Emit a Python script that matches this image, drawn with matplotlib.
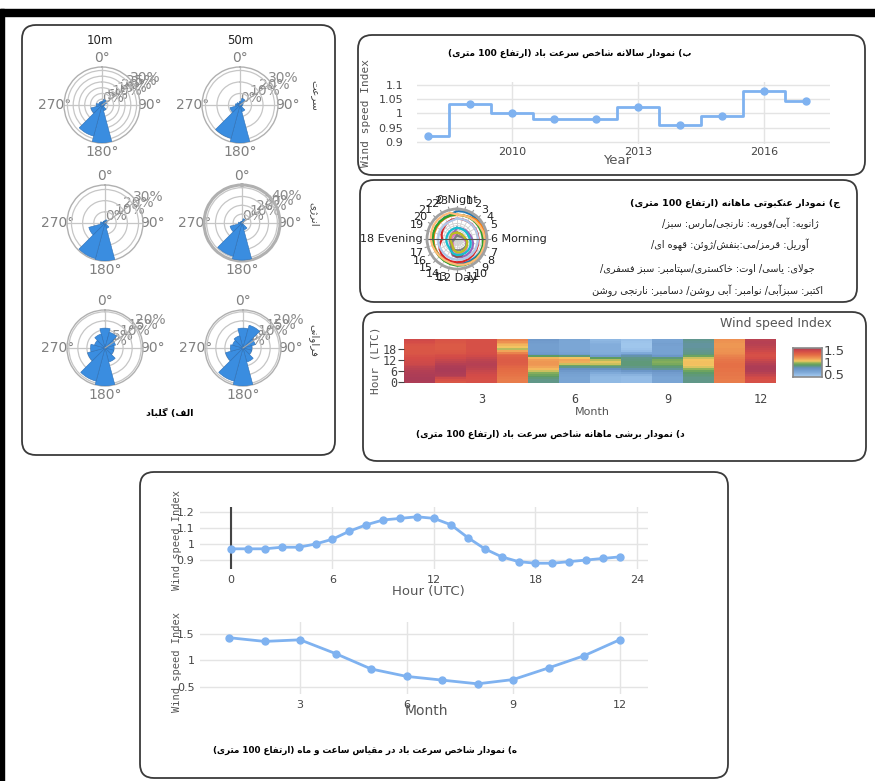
import re
import numpy as np
import matplotlib
matplotlib.use("Agg")
import matplotlib.pyplot as plt
from matplotlib.patches import FancyBboxPatch, Rectangle
from matplotlib.colors import LinearSegmentedColormap

W, H = 875, 781

# ---------------- data ----------------
sector_deg = [0, 30, 60, 90, 120, 150, 180, 210, 240, 270, 300, 330]
rose_heights = ["10m", "50m"]
rose_rows = ["سرعت", "انرژی", "فراوانی"]
rose_speed_10 = [3, 5, 4, 2, 2, 5, 33, 28, 10, 5, 3, 3]
rose_speed_50 = [3, 6, 3, 2, 2, 6, 33, 30, 9, 4, 3, 2]
rose_energy_10 = [2, 3, 2, 1, 1, 5, 34, 33, 15, 4, 2, 2]
rose_energy_50 = [2, 5, 2, 1, 1, 8, 42, 39, 14, 4, 2, 2]
rose_freq_10 = [11, 9, 6, 5, 5, 8, 21, 19, 10, 8, 6, 8]
rose_freq_50 = [11, 13, 7, 5, 5, 8, 21, 19, 10, 7, 6, 7]

years = [2008, 2009, 2010, 2011, 2012, 2013, 2014, 2015, 2016, 2017]
yearly_index = [0.92, 1.033, 1.0, 0.98, 0.98, 1.022, 0.958, 0.99, 1.08, 1.042]

hours = list(range(24))
hour_labels = ["0 Night", "1", "2", "3", "4", "5", "6 Morning", "7", "8", "9", "10", "11",
               "12 Day", "13", "14", "15", "16", "17", "18 Evening", "19", "20", "21", "22", "23"]
hourly_index = [0.97, 0.97, 0.97, 0.98, 0.98, 1.00, 1.03, 1.08, 1.12, 1.15, 1.16, 1.17,
                1.16, 1.12, 1.04, 0.97, 0.92, 0.89, 0.88, 0.88, 0.89, 0.90, 0.91, 0.92]

months = list(range(1, 13))
monthly_index = [1.43, 1.36, 1.39, 1.13, 0.84, 0.70, 0.63, 0.56, 0.64, 0.86, 1.09, 1.39]

# month x hour wind speed index (hours 0..23)
heat_jan = [1.56, 1.57, 1.57, 1.56, 1.56, 1.55, 1.54, 1.52, 1.50, 1.47, 1.45, 1.44,
            1.43, 1.42, 1.40, 1.39, 1.38, 1.38, 1.38, 1.38, 1.39, 1.40, 1.42, 1.44]
heat_feb = [1.38, 1.40, 1.45, 1.52, 1.55, 1.56, 1.57, 1.57, 1.56, 1.55, 1.53, 1.50,
            1.47, 1.44, 1.42, 1.40, 1.38, 1.37, 1.36, 1.36, 1.36, 1.37, 1.38, 1.39]
heat_mar = [1.40, 1.40, 1.41, 1.42, 1.43, 1.45, 1.47, 1.50, 1.52, 1.53, 1.53, 1.52,
            1.50, 1.47, 1.44, 1.42, 1.41, 1.40, 1.40, 1.40, 1.40, 1.40, 1.40, 1.40]
heat_apr = [1.22, 1.22, 1.23, 1.24, 1.25, 1.26, 1.27, 1.28, 1.30, 1.32, 1.34, 1.35,
            1.35, 1.34, 1.32, 1.28, 1.20, 1.10, 0.97, 1.02, 1.06, 1.10, 1.16, 1.20]
heat_may = [0.80, 0.80, 0.82, 0.85, 0.88, 0.92, 0.98, 1.05, 1.10, 1.13, 1.14, 1.14,
            1.12, 1.06, 0.85, 0.70, 0.65, 0.63, 0.62, 0.62, 0.62, 0.63, 0.64, 0.66]
heat_jun = [0.58, 0.58, 0.58, 0.59, 0.60, 0.62, 0.66, 0.72, 0.80, 0.88, 0.98, 1.08,
            1.10, 1.02, 0.82, 0.65, 0.60, 0.58, 0.57, 0.57, 0.57, 0.57, 0.57, 0.58]
heat_jul = [0.47, 0.47, 0.47, 0.48, 0.50, 0.55, 0.62, 0.72, 0.80, 0.90, 0.98, 1.00,
            0.97, 0.85, 0.65, 0.56, 0.54, 0.53, 0.53, 0.53, 0.53, 0.52, 0.50, 0.48]
heat_aug = [0.45, 0.45, 0.45, 0.46, 0.50, 0.58, 0.68, 0.76, 0.80, 0.82, 0.82, 0.82,
            0.81, 0.80, 0.76, 0.68, 0.55, 0.45, 0.42, 0.40, 0.40, 0.40, 0.41, 0.43]
heat_sep = [0.58, 0.58, 0.58, 0.59, 0.61, 0.64, 0.70, 0.78, 0.82, 0.86, 0.90, 0.92,
            0.90, 0.82, 0.68, 0.62, 0.60, 0.60, 0.60, 0.60, 0.61, 0.62, 0.60, 0.59]
heat_oct = [0.80, 0.80, 0.80, 0.81, 0.82, 0.84, 0.88, 0.94, 0.99, 1.02, 1.03, 1.03,
            1.02, 0.98, 0.88, 0.82, 0.80, 0.79, 0.78, 0.77, 0.77, 0.77, 0.78, 0.79]
heat_nov = [1.22, 1.22, 1.23, 1.23, 1.24, 1.24, 1.25, 1.25, 1.26, 1.26, 1.26, 1.25,
            1.24, 1.22, 1.20, 1.18, 1.16, 1.15, 1.15, 1.14, 1.14, 1.14, 1.15, 1.16]
heat_dec = [1.40, 1.40, 1.42, 1.45, 1.48, 1.52, 1.55, 1.56, 1.56, 1.55, 1.53, 1.50,
            1.46, 1.42, 1.40, 1.40, 1.42, 1.45, 1.48, 1.50, 1.52, 1.53, 1.53, 1.52]

month_colors = ["#1f77b4", "#ff7f0e", "#2ca02c", "#d62728", "#9467bd", "#8c564b",
                "#e377c2", "#7f7f7f", "#bcbd22", "#17becf", "#aec7e8", "#ffbb78"]

title_a = "الف) گلباد"
title_b = "ب) نمودار سالانه شاخص سرعت باد (ارتفاع 100 متری)"
title_c = "ج) نمودار عنکبوتی ماهانه (ارتفاع 100 متری)"
legend_c = ["ژانویه: آبی/فوریه: نارنجی/مارس: سبز/",
            "آوریل: قرمز/می:بنفش/ژوئن: قهوه ای/",
            "جولای: یاسی/ اوت: خاکستری/سپتامبر: سبز فسفری/",
            "اکتبر: سبزآبی/ نوامبر: آبی روشن/ دسامبر: نارنجی روشن"]
title_d = "د) نمودار برشی ماهانه شاخص سرعت باد (ارتفاع 100 متری)"
title_e = "ه) نمودار شاخص سرعت باد در مقیاس ساعت و ماه (ارتفاع 100 متری)"

# ---------------- Persian shaping (contextual forms + visual order) ----------------
_AR = {
    'ا': 'FE8D FE8E', 'آ': 'FE81 FE82', 'ب': 'FE8F FE90 FE91 FE92', 'پ': 'FB56 FB57 FB58 FB59',
    'ت': 'FE95 FE96 FE97 FE98', 'ث': 'FE99 FE9A FE9B FE9C', 'ج': 'FE9D FE9E FE9F FEA0',
    'چ': 'FB7A FB7B FB7C FB7D', 'ح': 'FEA1 FEA2 FEA3 FEA4', 'خ': 'FEA5 FEA6 FEA7 FEA8',
    'د': 'FEA9 FEAA', 'ذ': 'FEAB FEAC', 'ر': 'FEAD FEAE', 'ز': 'FEAF FEB0', 'ژ': 'FB8A FB8B',
    'س': 'FEB1 FEB2 FEB3 FEB4', 'ش': 'FEB5 FEB6 FEB7 FEB8', 'ص': 'FEB9 FEBA FEBB FEBC',
    'ض': 'FEBD FEBE FEBF FEC0', 'ط': 'FEC1 FEC2 FEC3 FEC4', 'ظ': 'FEC5 FEC6 FEC7 FEC8',
    'ع': 'FEC9 FECA FECB FECC', 'غ': 'FECD FECE FECF FED0', 'ف': 'FED1 FED2 FED3 FED4',
    'ق': 'FED5 FED6 FED7 FED8', 'ک': 'FB8E FB8F FB90 FB91', 'گ': 'FB92 FB93 FB94 FB95',
    'ل': 'FEDD FEDE FEDF FEE0', 'م': 'FEE1 FEE2 FEE3 FEE4', 'ن': 'FEE5 FEE6 FEE7 FEE8',
    'و': 'FEED FEEE', 'ه': 'FEE9 FEEA FEEB FEEC', 'ی': 'FBFC FBFD FBFE FBFF',
    'ئ': 'FE89 FE8A FE8B FE8C',
}
AR_FORMS = {k: [chr(int(h, 16)) for h in v.split()] for k, v in _AR.items()}
LAM_ALEF = {'ا': ('\uFEFB', '\uFEFC'), 'آ': ('\uFEF5', '\uFEF6')}


def _joins_next(c):
    f = AR_FORMS.get(c)
    return f is not None and len(f) == 4


def shape_fa(text):
    out, i, n = [], 0, len(text)
    while i < n:
        c = text[i]
        f = AR_FORMS.get(c)
        if f is None:
            out.append(c)
            i += 1
            continue
        link_prev = i > 0 and _joins_next(text[i - 1])
        if c == 'ل' and i + 1 < n and text[i + 1] in LAM_ALEF:
            lig = LAM_ALEF[text[i + 1]]
            out.append(lig[1] if link_prev else lig[0])
            i += 2
            continue
        link_next = len(f) == 4 and i + 1 < n and text[i + 1] in AR_FORMS
        if link_prev and link_next:
            g = f[3]
        elif link_prev:
            g = f[1]
        elif link_next:
            g = f[2]
        else:
            g = f[0]
        out.append(g)
        i += 1
    return ''.join(out)


_MIRROR = str.maketrans('()', ')(')


def fa(text):
    s = shape_fa(text)
    runs = re.findall(r'[0-9A-Za-z]+|[^0-9A-Za-z]+', s)
    return ''.join(r if re.match(r'[0-9A-Za-z]', r) else r[::-1].translate(_MIRROR)
                   for r in reversed(runs))


def rect(x0, y0, x1, y1):
    return [x0 / W, 1 - y1 / H, (x1 - x0) / W, (y1 - y0) / H]


# ---------------- figure & frame ----------------
fig = plt.figure(figsize=(W / 100, H / 100), dpi=100)
fig.patch.set_facecolor("white")

bg = fig.add_axes([0, 0, 1, 1])
bg.set_xlim(0, W)
bg.set_ylim(H, 0)
bg.axis("off")
bg.set_zorder(-5)

bg.add_patch(Rectangle((0, 9), W, 7, color="black"))
bg.add_patch(Rectangle((0, 9), 4, H, color="black"))

for (x0, y0, x1, y1) in [(22, 25, 335, 455), (358, 35, 865, 175), (360, 180, 857, 302),
                         (363, 312, 866, 461), (140, 472, 728, 778)]:
    bg.add_patch(FancyBboxPatch((x0, y0), x1 - x0, y1 - y0,
                                boxstyle="round,pad=0,rounding_size=14",
                                fc="none", ec="#3a3a3a", lw=1.3))

FA_FONT = ["DejaVu Sans"]
line_c = "#7fb2f0"
tick_c = "#444444"
grid_c = "#e4e4e4"

# ---------------- (a) wind roses ----------------
rose_specs = [
    ((102, 105), rose_speed_10, 5, 33, False),
    ((240, 105), rose_speed_50, 10, 33, False),
    ((105, 223), rose_energy_10, 10, 34, False),
    ((242, 223), rose_energy_50, 10, 43, True),
    ((105, 348), rose_freq_10, 5, 21, False),
    ((243, 348), rose_freq_50, 5, 21, False),
]
R = 38
for (cx, cy), vals, step, rmax, thick in rose_specs:
    ax = fig.add_axes(rect(cx - R, cy - R, cx + R, cy + R), projection="polar")
    ax.set_theta_zero_location("N")
    ax.set_theta_direction(-1)
    ax.bar(np.deg2rad(sector_deg), vals, width=np.deg2rad(30), color="#3a8de0",
           edgecolor="#2d6fb5", linewidth=0.4, zorder=3)
    ax.set_ylim(0, rmax)
    ticks = np.arange(0, rmax + 0.01, step)
    ax.set_rgrids(ticks, labels=[f"{int(t)}%" for t in ticks], angle=55,
                  fontsize=10, color="#8a8a8a", family="DejaVu Sans")
    ax.set_thetagrids([0, 90, 180, 270], ["0°", "90°", "180°", "270°"])
    ax.tick_params(axis="x", labelsize=10, labelcolor="#808080", pad=-4)
    ax.grid(color="#c6c6c6", lw=0.9)
    ax.spines["polar"].set_color("#b0b0b0")
    ax.spines["polar"].set_linewidth(2.2 if thick else 1.0)
    ax.plot([np.deg2rad(55)] * 2, [0, rmax], color="#a8a8a8", lw=0.8, zorder=4)

for x, t in zip([100, 240], rose_heights):
    bg.text(x, 40, t, ha="center", va="center", fontsize=8.5, color="#222")
for y, t in zip([95, 214, 341], rose_rows):
    bg.text(314, y, fa(t), ha="center", va="center", rotation=270, fontsize=7.5,
            color="#444", family=FA_FONT)
bg.text(170, 413, fa(title_a), ha="center", va="center", fontsize=6.8, fontweight="bold",
        family=FA_FONT)

# ---------------- (b) yearly index ----------------
yb = fig.add_axes(rect(417, 82, 830, 144))
yb.plot(years, yearly_index, drawstyle="steps-mid", color=line_c, lw=2)
yb.plot(years, yearly_index, "o", color=line_c, ms=5)
yb.set_xlim(2007.74, 2017.57)
yb.set_ylim(0.893, 1.11)
yb.set_xticks([2010, 2013, 2016])
yb.set_yticks([0.9, 0.95, 1.0, 1.05, 1.1])
yb.set_yticklabels(["0.9", "0.95", "1", "1.05", "1.1"])
yb.grid(color=grid_c, lw=1)
yb.set_axisbelow(True)
for s in yb.spines.values():
    s.set_visible(False)
yb.tick_params(length=0, labelsize=8, labelcolor=tick_c)
yb.tick_params(axis="y", pad=10)
yb.tick_params(axis="x", pad=2)
bg.text(617, 161, "Year", ha="center", va="center", fontsize=9.5, color="#555")
bg.text(366, 113, "Wind speed Index", ha="center", va="center", rotation=90,
        fontsize=8, color="#555", family="DejaVu Sans Mono")
bg.text(570, 53, fa(title_b), ha="center", va="center", fontsize=6.5, fontweight="bold",
        family=FA_FONT)

# ---------------- heat matrix ----------------
heat = np.array([heat_jan, heat_feb, heat_mar, heat_apr, heat_may, heat_jun,
                 heat_jul, heat_aug, heat_sep, heat_oct, heat_nov, heat_dec])

# ---------------- (c) spider chart ----------------
SP_MIN, SP_MAX = 0.3, 1.65
sp = fig.add_axes(rect(427, 209, 487, 269), projection="polar")
sp.set_theta_zero_location("N")
sp.set_theta_direction(-1)
th = np.deg2rad(np.array(hours + hours[:1]) * 15)
for i in range(12):
    sp.plot(th, list(heat[i]) + [heat[i][0]], color=month_colors[i], lw=1.6)
sp.set_ylim(SP_MIN, SP_MAX)
sp.set_yticks([0.35, 0.4, 0.45, 0.5, 0.55, 0.6, 0.7, 0.8, 0.9, 1.0, 1.2, 1.4])
sp.set_yticklabels([])
sp.set_xticks(np.deg2rad(np.array(hours) * 15))
sp.set_xticklabels([])
sp.tick_params(axis="x", length=0)
sp.grid(color="#cfcfcf", lw=0.6)
sp.spines["polar"].set_color("#a0a0a0")
sp.spines["polar"].set_linewidth(2)
sp.plot([np.deg2rad(270), 0, np.deg2rad(90)], [SP_MAX + 0.05, SP_MIN, SP_MAX + 0.05],
        color="#555", lw=0.8, clip_on=False)
for h, lab in zip(hours, hour_labels):
    a = np.deg2rad(h * 15)
    sp.plot([a, a], [SP_MAX, SP_MAX + 0.13], color="#999", lw=0.8, clip_on=False)
    s, c = np.sin(a), np.cos(a)
    ha = "left" if s > 0.2 else ("right" if s < -0.2 else "center")
    va = "bottom" if c > 0.2 else ("top" if c < -0.2 else "center")
    sp.text(a, SP_MAX + 0.2, lab, ha=ha, va=va, fontsize=8, color="#222", clip_on=False)

bg.text(840, 203, fa(title_c), ha="right", va="center", fontsize=6.8, fontweight="bold",
        family=FA_FONT)
for (x, y), t in zip([(740, 223), (730, 245), (707, 269), (708, 291)], legend_c):
    bg.text(x, y, fa(t), ha="center", va="center", fontsize=7, color="#222", family=FA_FONT)

# ---------------- (d) heatmap ----------------
cmap = LinearSegmentedColormap.from_list("wsi", [
    (0.00, "#aacff3"), (0.16, "#7ea9d8"), (0.30, "#6690c2"), (0.40, "#5d9c62"),
    (0.47, "#8fb35a"), (0.53, "#f3c862"), (0.62, "#ef9b55"), (0.74, "#e46c45"),
    (0.86, "#d44c47"), (1.00, "#a2395a")])
VMIN, VMAX = 0.35, 1.6

hm = fig.add_axes(rect(404, 339, 776, 383))
hm.pcolormesh(np.arange(0.5, 13), np.arange(-0.5, 24), heat.T, cmap=cmap,
              vmin=VMIN, vmax=VMAX, shading="flat")
hm.set_xlim(0.5, 12.5)
hm.set_ylim(-0.5, 23.5)
hm.set_xticks([3, 6, 9, 12])
hm.set_yticks([0, 6, 12, 18])
for s in hm.spines.values():
    s.set_visible(False)
hm.tick_params(axis="x", length=0, pad=7, labelsize=8.5, labelcolor=tick_c)
hm.tick_params(axis="y", length=4, color="#444", pad=1, labelsize=8.5, labelcolor=tick_c)
for lab in hm.get_xticklabels() + hm.get_yticklabels():
    lab.set_family("DejaVu Sans Mono")

cb = fig.add_axes(rect(793, 348, 822, 377))
cb.imshow(np.linspace(VMIN, VMAX, 256)[:, None], aspect="auto", cmap=cmap,
          origin="lower", extent=[0, 1, VMIN, VMAX])
cb.set_xticks([])
cb.yaxis.tick_right()
cb.set_yticks([0.5, 1, 1.5])
cb.set_yticklabels(["0.5", "1", "1.5"])
cb.tick_params(length=0, pad=1, labelsize=9.5, labelcolor=tick_c)
for s in cb.spines.values():
    s.set_color("#8a8a8a")
    s.set_linewidth(1.2)

bg.text(776, 323, "Wind speed Index", ha="center", va="center", fontsize=9, color="#555")
bg.text(375, 360, "Hour (LTC)", ha="center", va="center", rotation=90, fontsize=8,
        color="#555", family="DejaVu Sans Mono")
bg.text(592, 412, "Month", ha="center", va="center", fontsize=8, color="#555")
bg.text(550, 434, fa(title_d), ha="center", va="center", fontsize=6.5, fontweight="bold",
        family=FA_FONT)

# ---------------- (e) hourly and monthly index ----------------
eu = fig.add_axes(rect(200, 507, 648, 569))
eu.plot(hours, hourly_index, "-o", color=line_c, lw=2, ms=5)
eu.axvline(0, color="#444", lw=1.5, zorder=1)
eu.set_xlim(-1.83, 24.65)
eu.set_ylim(0.844, 1.231)
eu.set_xticks([0, 6, 12, 18, 24])
eu.set_yticks([0.9, 1.0, 1.1, 1.2])
eu.set_yticklabels(["0.9", "1", "1.1", "1.2"])

el = fig.add_axes(rect(200, 622, 648, 694))
el.plot(months, monthly_index, "-o", color=line_c, lw=2, ms=5)
el.set_xlim(0.18, 12.8)
el.set_ylim(0.368, 1.726)
el.set_xticks([3, 6, 9, 12])
el.set_yticks([0.5, 1.0, 1.5])
el.set_yticklabels(["0.5", "1", "1.5"])

for a in (eu, el):
    a.grid(color=grid_c, lw=1)
    a.set_axisbelow(True)
    for s in a.spines.values():
        s.set_visible(False)
    a.tick_params(length=0, labelsize=8, labelcolor=tick_c, pad=4)

bg.text(428, 591, "Hour (UTC)", ha="center", va="center", fontsize=9.5, color="#555")
bg.text(426, 711, "Month", ha="center", va="center", fontsize=10, color="#555")
for y in (540, 662):
    bg.text(177, y, "Wind speed Index", ha="center", va="center", rotation=90,
            fontsize=7.5, color="#555", family="DejaVu Sans Mono")
bg.text(365, 750, fa(title_e), ha="center", va="center", fontsize=6.3, fontweight="bold",
        family=FA_FONT)

fig.savefig("out.png", dpi=100)
